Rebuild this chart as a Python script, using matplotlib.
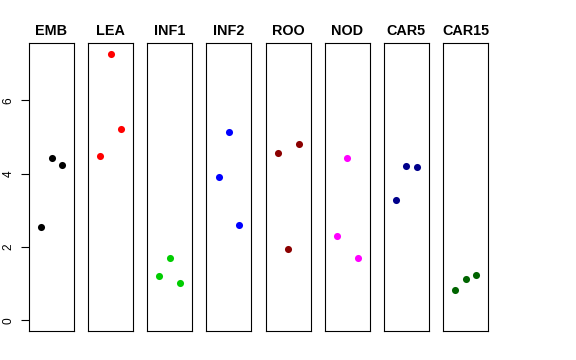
import matplotlib
matplotlib.use("Agg")
import matplotlib.pyplot as plt

plt.rcParams['font.family'] = ['Liberation Sans', 'DejaVu Sans']

# stages and their colours
stages = ["EMB", "LEA", "INF1", "INF2", "ROO", "NOD", "CAR5", "CAR15"]
colors = ["#000000", "#FF0000", "#00CD00", "#0000FF", "#8B0000", "#FF00FF", "#00008B", "#006400"]

# three replicates per stage
rep_x = [1, 2, 3]
emb = [2.55, 4.42, 4.23]
lea = [4.49, 7.27, 5.22]
inf1 = [1.20, 1.70, 1.01]
inf2 = [3.90, 5.13, 2.61]
roo = [4.56, 1.94, 4.82]
nod = [2.29, 4.43, 1.69]
car5 = [3.29, 4.22, 4.17]
car15 = [0.83, 1.12, 1.24]
values = [emb, lea, inf1, inf2, roo, nod, car5, car15]

yticks = [0, 2, 4, 6]

W, H = 576, 360
fig = plt.figure(figsize=(W / 100, H / 100), dpi=100)

left0, step, width = 29, 59.15, 45
top, bottom = 43, 331
ymax = 7.27

for i, (name, col, vals) in enumerate(zip(stages, colors, values)):
    left = left0 + i * step
    ax = fig.add_axes([left / W, 1 - bottom / H, width / W, (bottom - top) / H])
    ax.scatter(rep_x, vals, s=26, color=col, linewidths=0, zorder=3)
    ax.set_xlim(0 - 0.16, 4 + 0.16)
    ax.set_ylim(-0.04 * ymax, ymax * 1.04)
    ax.set_xticks([])
    for sp in ax.spines.values():
        sp.set_linewidth(0.8)
        sp.set_color("black")
    ax.set_title(name, fontsize=10.4, fontweight="bold", pad=6)
    if i == 0:
        ax.set_yticks(yticks)
        ax.set_yticklabels([str(t) for t in yticks], rotation=90, va="center", fontsize=8.6)
        ax.tick_params(axis="y", length=5.5, width=0.8, pad=5)
    else:
        ax.set_yticks([])

fig.savefig("out.png", dpi=100)
